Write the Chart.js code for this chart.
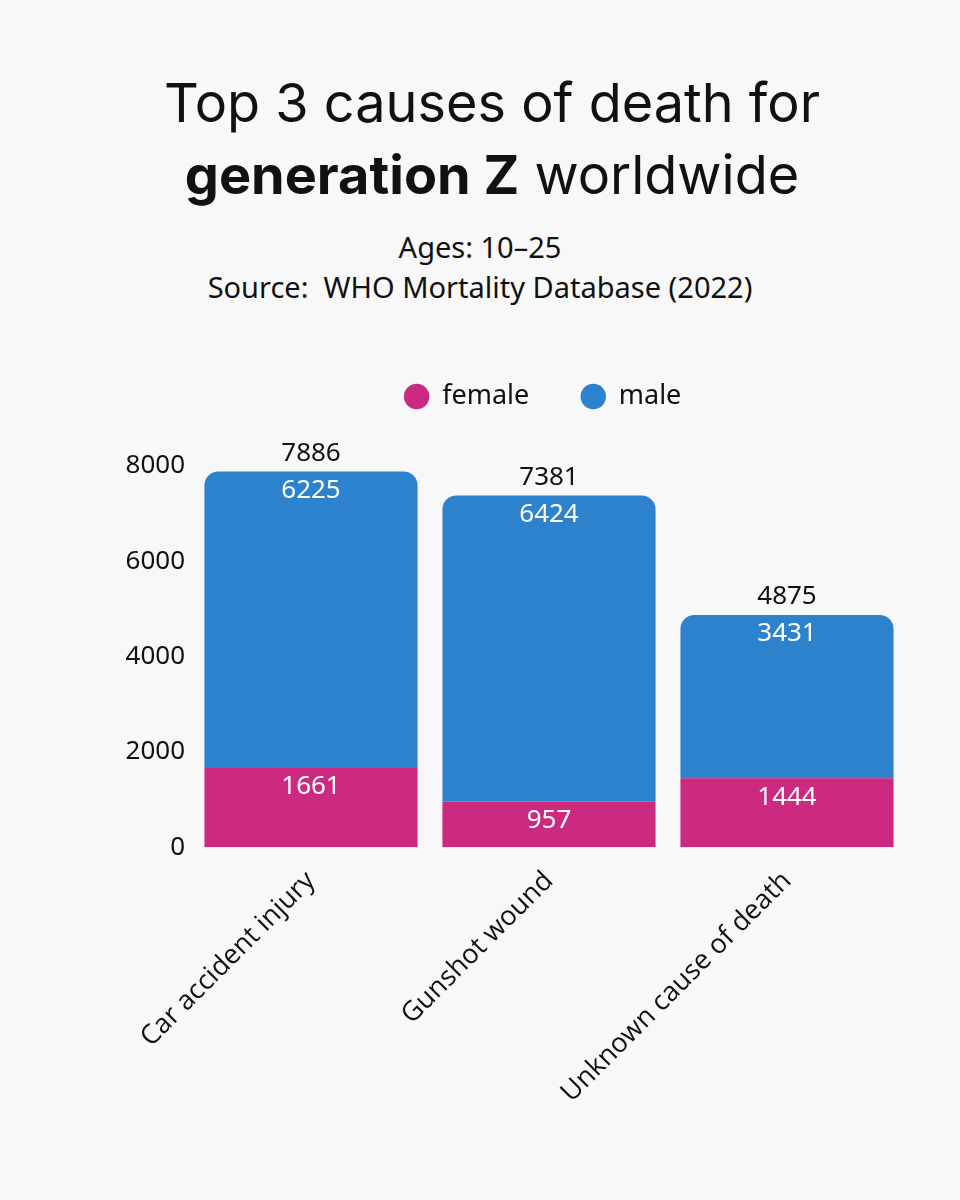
<!DOCTYPE html>
<html>
<head>
<meta charset="utf-8">
<script src="https://cdn.jsdelivr.net/npm/chart.js@4"></script>
<style>
    body { margin: 0; background: #f8f8f8; }
    #wrap { position: relative; width: 960px; height: 1200px; }
    .t { position: absolute; left: 0; width: 960px; text-align: center; color: #111; white-space: nowrap; }
    #title1, #title2 { left: 12px; font-family: Inter, "Liberation Sans", sans-serif; font-size: 54px; }
    #title1 { top: 70px; }
    #title2 { top: 142px; }
    #sub1, #sub2 { font-family: "Noto Sans", sans-serif; font-size: 29px; }
    #sub1 { top: 227px; }
    #sub2 { top: 267px; }
    canvas { position: absolute; left: 0; top: 0; }
</style>
</head>
<body>
<div id="wrap">
    <div class="t" id="title1">Top 3 causes of death for</div>
    <div class="t" id="title2"><b>generation Z</b> worldwide</div>
    <div class="t" id="sub1">Ages: 10–25</div>
    <div class="t" id="sub2">Source:&nbsp; WHO Mortality Database (2022)</div>
    <canvas id="deathChart" width="960" height="1200"></canvas>
</div>
<script>
const causes = ['Car accident injury', 'Gunshot wound', 'Unknown cause of death'];
const femaleValues = [1661, 957, 1444];
const maleValues = [6225, 6424, 3431];
const yTicks = [0, 2000, 4000, 6000, 8000];

const femaleColor = 'rgb(204, 42, 128)';
const maleColor = 'rgb(45, 130, 205)';

// label di dalam bar + total di atasnya
const valueLabels = {
    id: 'valueLabels',
    afterDatasetsDraw(chart) {
        const ctx = chart.ctx;
        ctx.save();
        ctx.font = '26px "Noto Sans", sans-serif';
        ctx.textAlign = 'center';
        ctx.textBaseline = 'middle';
        chart.data.datasets.forEach((ds, di) => {
            const meta = chart.getDatasetMeta(di);
            meta.data.forEach((bar, i) => {
                ctx.fillStyle = '#ffffff';
                ctx.fillText(ds.data[i], bar.x, bar.y + 19);
            });
        });
        const top = chart.getDatasetMeta(1);
        top.data.forEach((bar, i) => {
            ctx.fillStyle = '#111111';
            ctx.fillText(femaleValues[i] + maleValues[i], bar.x, bar.y - 18);
        });
        ctx.restore();
    }
};

// geser legend supaya posisinya sama dengan gambar asli
const legendShift = {
    id: 'legendShift',
    afterLayout(chart) {
        const lg = chart.legend;
        lg.left += 90; lg.right += 90;
        lg.top -= 46; lg.bottom -= 46;
    }
};

new Chart(document.getElementById('deathChart'), {
    type: 'bar',
    data: {
        labels: causes,
        datasets: [{
            label: 'female',
            data: femaleValues,
            backgroundColor: femaleColor,
            categoryPercentage: 0.9,
            barPercentage: 0.995
        }, {
            label: 'male',
            data: maleValues,
            backgroundColor: maleColor,
            borderRadius: { topLeft: 14, topRight: 14, bottomLeft: 0, bottomRight: 0 },
            borderSkipped: 'start',
            categoryPercentage: 0.9,
            barPercentage: 0.995
        }]
    },
    options: {
        responsive: false,
        animation: false,
        layout: {
            padding: { top: 377, left: 0, right: 54, bottom: 73 }
        },
        plugins: {
            legend: {
                position: 'top',
                labels: {
                    usePointStyle: true,
                    pointStyle: 'circle',
                    boxWidth: 24,
                    boxHeight: 18,
                    padding: 52,
                    color: '#111',
                    font: { family: '"Noto Sans", sans-serif', size: 27 }
                }
            },
            tooltip: { enabled: false }
        },
        scales: {
            x: {
                stacked: true,
                grid: { display: false, drawTicks: false },
                border: { display: false },
                ticks: {
                    maxRotation: 45,
                    minRotation: 45,
                    padding: 18,
                    color: '#111',
                    font: { family: '"Open Sans", sans-serif', size: 27 }
                }
            },
            y: {
                stacked: true,
                min: 0,
                max: 8000,
                afterFit: scale => { scale.width = 192; },
                afterBuildTicks: scale => { scale.ticks = yTicks.map(v => ({ value: v })); },
                grid: { display: false, drawTicks: false },
                border: { display: false },
                ticks: {
                    padding: 7,
                    color: '#111',
                    font: { family: '"Noto Sans", sans-serif', size: 26 },
                    callback: value => String(value)
                }
            }
        }
    },
    plugins: [valueLabels, legendShift]
});
</script>
</body>
</html>
